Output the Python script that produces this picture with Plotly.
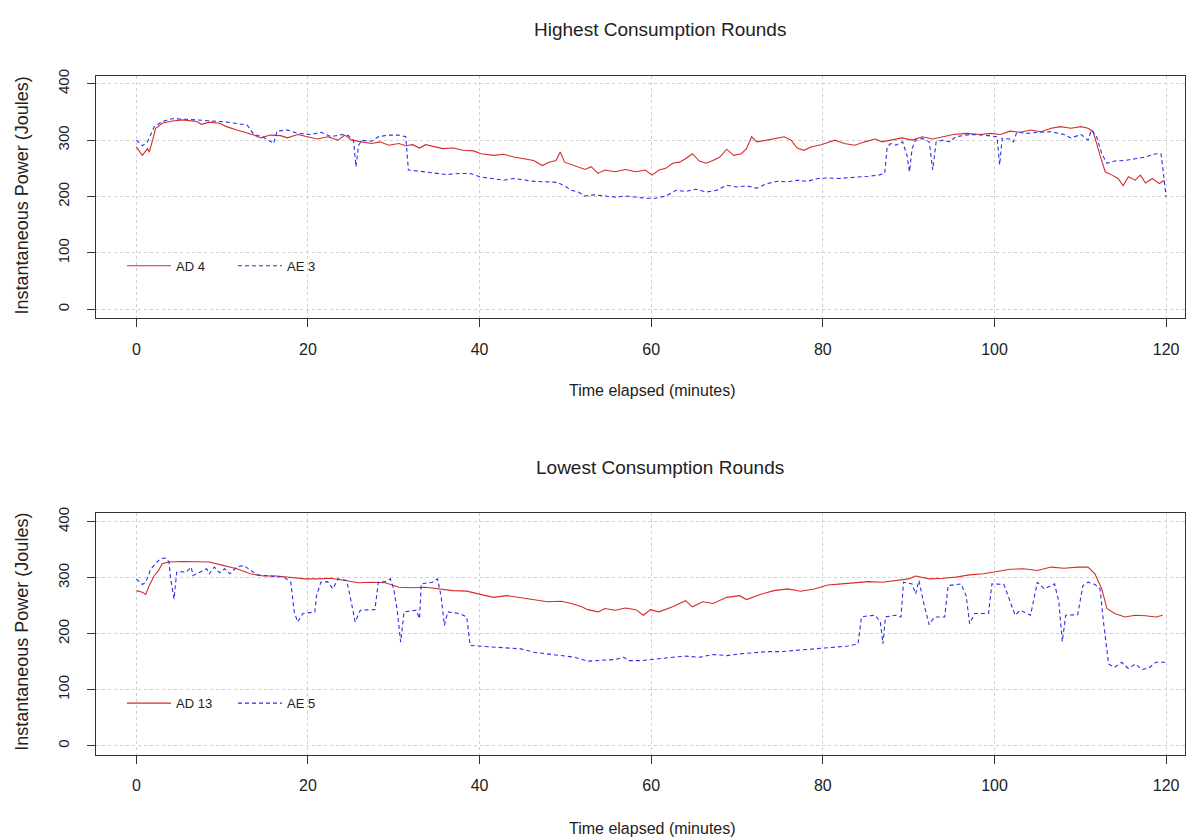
import plotly.graph_objects as go

# ---------------- Data ----------------
top_ad_x = [0.0, 0.7, 1.3, 1.5, 1.9, 2.25, 3.0, 4.2, 5.4, 7.0, 7.6, 8.5, 9.7, 10.5, 11.7, 12.7, 13.7, 14.5,
            15.6, 16.8, 17.6, 18.8, 20.0, 21.1, 22.3, 23.5, 24.3, 25.1, 26.3, 27.4, 28.4, 29.4, 30.6, 31.4,
            32.2, 33.0, 33.7, 34.7, 35.7, 36.9, 38.1, 39.3, 40.2, 41.6, 42.8, 44.0, 45.2, 46.3, 47.3, 48.1,
            48.9, 49.4, 49.9, 51.1, 52.3, 53.0, 53.8, 54.6, 55.8, 57.0, 58.2, 59.3, 60.1, 60.9, 61.7, 62.5,
            63.3, 64.0, 64.8, 65.6, 66.4, 67.2, 68.0, 68.8, 69.6, 70.5, 71.1, 71.7, 72.3, 73.5, 74.7, 75.5,
            76.3, 77.0, 77.8, 78.6, 79.8, 81.4, 82.5, 83.7, 84.9, 86.1, 86.9, 88.1, 89.2, 90.4, 91.6, 92.8,
            94.0, 95.2, 96.7, 98.3, 99.5, 100.7, 101.8, 103.0, 104.2, 105.4, 106.6, 107.7, 108.9, 110.1,
            110.9, 111.5, 112.3, 112.9, 113.7, 114.4, 115.0, 115.6, 116.4, 117.0, 117.6, 118.4, 119.2, 119.8]
top_ad_y = [288, 273, 285, 279, 300, 321, 330, 334, 336, 333, 328, 332, 330, 324, 318, 314, 309, 304,
            309, 308, 304, 310, 306, 302, 306, 300, 309, 300, 297, 294, 297, 291, 294, 290,
            292, 286, 292, 288, 285, 286, 282, 281, 276, 273, 275, 270, 267, 264, 255, 261,
            264, 279, 261, 255, 248, 253, 241, 247, 244, 248, 244, 247, 238, 247, 250, 259,
            261, 267, 276, 263, 259, 264, 270, 284, 273, 276, 285, 306, 297, 300, 303, 306,
            300, 286, 282, 288, 292, 300, 294, 291, 297, 302, 297, 300, 304, 300, 306, 302,
            306, 310, 312, 310, 312, 310, 316, 314, 318, 315, 321, 324, 321, 324,
            321, 315, 273, 244, 238, 232, 219, 235, 229, 238, 224, 232, 223, 229]

top_ae_x = [0.0, 0.7, 1.3, 1.7, 2.1, 3.0, 4.2, 5.8, 7.4, 8.9, 10.5, 11.7, 12.9, 13.7, 14.7, 15.6, 16.0, 16.4,
            17.6, 18.8, 20.4, 21.5, 22.7, 23.9, 24.7, 25.3, 25.6, 25.9, 26.3, 27.4, 28.2, 29.4, 30.6, 31.4,
            31.7, 33.0, 34.5, 36.1, 37.7, 38.9, 40.0, 41.6, 42.8, 44.0, 45.2, 46.3, 47.9, 49.1, 50.1, 50.7,
            51.5, 52.3, 53.4, 54.6, 55.8, 57.0, 58.2, 59.3, 60.5, 61.7, 62.9, 64.0, 65.2, 66.4, 67.6, 68.8,
            70.0, 71.1, 72.3, 73.5, 74.7, 75.9, 77.0, 78.2, 79.4, 80.6, 81.8, 83.0, 84.1, 85.3, 86.5, 87.2,
            87.5, 87.9, 88.5, 89.3, 89.8, 90.1, 90.4, 90.8, 91.6, 92.4, 92.8, 93.2, 94.0, 94.8, 95.5, 97.1,
            98.7, 100.3, 100.6, 100.9, 101.8, 102.2, 102.6, 103.8, 105.0, 106.6, 108.1, 108.9, 110.1, 110.9,
            111.3, 111.9, 112.5, 113.1, 114.0, 115.2, 116.4, 117.6, 118.8, 119.4, 119.6, 120.0]
top_ae_y = [300, 290, 297, 312, 324, 333, 338, 337, 336, 334, 332, 330, 327, 310, 306, 298, 294, 316,
            318, 312, 310, 314, 306, 310, 308, 300, 253, 291, 300, 298, 306, 309, 309, 306,
            247, 245, 242, 239, 241, 241, 235, 232, 229, 232, 229, 227, 226, 225, 217, 211,
            208, 201, 203, 201, 199, 201, 199, 197, 197, 201, 211, 209, 213, 208, 211, 220,
            217, 219, 215, 223, 227, 226, 229, 227, 232, 233, 232, 233, 235, 236, 238, 241,
            288, 294, 291, 297, 273, 244, 285, 300, 303, 297, 247, 297, 300, 297, 306, 310,
            309, 306, 256, 303, 302, 297, 314, 312, 314, 315, 310, 304, 310, 300,
            318, 306, 276, 259, 263, 264, 267, 270, 276, 276, 253, 199]

bot_ad_x = [0.0, 0.7, 1.1, 1.5, 2.1, 2.6, 3.0, 3.8, 5.4, 7.0, 8.5, 10.1, 11.7, 13.3, 14.8, 16.4, 18.0, 19.6,
            21.1, 22.7, 24.3, 25.9, 27.4, 29.0, 30.6, 32.2, 33.7, 35.3, 36.9, 38.5, 40.0, 41.6, 43.2, 44.8,
            46.3, 47.9, 49.5, 50.7, 51.9, 52.6, 53.8, 54.6, 55.8, 57.0, 58.2, 59.1, 59.9, 60.9, 62.5, 64.0,
            64.8, 66.0, 67.2, 68.8, 70.3, 71.1, 72.7, 74.3, 75.9, 77.4, 79.0, 80.6, 82.2, 83.7, 85.3, 86.9,
            88.5, 90.0, 90.8, 92.4, 94.0, 95.5, 97.1, 98.7, 100.3, 101.8, 103.4, 105.0, 106.6, 108.1, 109.7,
            110.9, 111.7, 112.5, 113.1, 114.0, 115.2, 116.4, 117.6, 118.8, 119.6]
bot_ad_y = [277, 274, 270, 286, 304, 313, 325, 328, 329, 329, 328, 322, 316, 307, 303, 303, 301, 298,
            298, 299, 295, 291, 292, 291, 283, 282, 283, 280, 277, 276, 271, 265, 268, 264,
            260, 257, 258, 254, 248, 243, 239, 245, 242, 246, 243, 233, 243, 239, 248, 259,
            248, 257, 254, 265, 268, 261, 270, 277, 280, 276, 280, 287, 289, 291, 293, 292,
            295, 298, 303, 298, 299, 301, 305, 307, 311, 315, 316, 313, 319, 317, 319,
            319, 307, 280, 245, 236, 230, 233, 232, 230, 233]

bot_ae_x = [0.0, 0.7, 1.1, 1.7, 2.25, 2.8, 3.4, 3.8, 4.0, 4.4, 4.7, 5.0, 5.8, 6.4, 6.6, 7.4, 8.2, 8.5, 9.1,
            9.7, 10.3, 10.9, 11.7, 12.5, 13.3, 14.1, 15.6, 17.2, 18.0, 18.4, 18.8, 19.4, 20.8, 21.0, 21.5,
            22.3, 22.9, 23.5, 24.5, 24.9, 25.5, 26.1, 27.8, 28.2, 29.0, 29.6, 30.0, 30.4, 30.8, 31.2, 32.6,
            33.0, 33.2, 34.5, 35.1, 35.5, 35.9, 36.3, 37.7, 38.5, 38.9, 40.0, 41.6, 43.2, 44.8, 46.3, 47.9,
            49.5, 51.1, 52.6, 54.2, 55.8, 56.8, 57.4, 58.9, 60.5, 62.5, 64.0, 65.6, 67.2, 68.8, 70.3, 71.9,
            73.5, 75.1, 76.6, 78.2, 79.8, 81.4, 82.9, 84.1, 84.5, 85.3, 86.1, 86.7, 87.0, 87.3, 88.5, 89.1,
            89.4, 90.4, 90.8, 91.2, 91.8, 92.4, 93.0, 94.2, 94.6, 96.1, 96.7, 97.1, 97.7, 99.3, 99.7, 101.1,
            101.8, 102.4, 103.0, 104.2, 105.0, 105.8, 107.0, 107.5, 107.9, 108.3, 109.7, 110.3, 110.9, 111.7,
            112.3, 112.7, 113.3, 114.0, 114.8, 115.6, 116.4, 117.2, 118.0, 118.8, 120.0]
bot_ae_y = [298, 288, 292, 316, 325, 334, 335, 328, 298, 262, 310, 311, 310, 319, 304, 310, 316, 307, 319,
            309, 316, 307, 319, 322, 313, 305, 303, 301, 292, 239, 221, 236, 239, 268, 292,
            293, 280, 298, 295, 268, 221, 242, 243, 292, 293, 298, 280, 242, 185, 239, 242,
            227, 289, 292, 298, 268, 215, 239, 236, 230, 179, 178, 176, 174, 173, 167, 164,
            161, 158, 151, 152, 154, 158, 152, 152, 155, 158, 160, 158, 163, 161, 164, 166,
            168, 168, 170, 173, 174, 176, 178, 182, 230, 232, 233, 221, 182, 230, 233, 230,
            292, 289, 271, 295, 251, 216, 230, 230, 286, 289, 268, 218, 236, 236, 289, 288,
            257, 233, 242, 233, 292, 280, 289, 257, 186, 233, 234, 286, 292, 288,
            280, 221, 146, 140, 149, 138, 146, 136, 139, 149, 149]

x_ticks = [0, 20, 40, 60, 80, 100, 120]
y_ticks = [0, 100, 200, 300, 400]

titles = ["Highest Consumption Rounds", "Lowest Consumption Rounds"]
x_title = "Time elapsed (minutes)"
y_title = "Instantaneous Power (Joules)"
names_top = ["AD 4", "AE 3"]
names_bot = ["AD 13", "AE 5"]

# ---------------- Styling ----------------
W, H = 1194, 840
FONT = "Liberation Sans, Arial, sans-serif"
RED = "rgb(214,45,40)"
BLUE = "rgb(45,45,235)"
AXC = "#333333"
DASH = "4px,3px"

fig = go.Figure()

fig.add_trace(go.Scatter(x=top_ad_x, y=top_ad_y, mode="lines", name=names_top[0],
                         line=dict(color=RED, width=1.1), xaxis="x", yaxis="y", legend="legend"))
fig.add_trace(go.Scatter(x=top_ae_x, y=top_ae_y, mode="lines", name=names_top[1],
                         line=dict(color=BLUE, width=1.1, dash=DASH), xaxis="x", yaxis="y", legend="legend"))
fig.add_trace(go.Scatter(x=bot_ad_x, y=bot_ad_y, mode="lines", name=names_bot[0],
                         line=dict(color=RED, width=1.1), xaxis="x2", yaxis="y2", legend="legend2"))
fig.add_trace(go.Scatter(x=bot_ae_x, y=bot_ae_y, mode="lines", name=names_bot[1],
                         line=dict(color=BLUE, width=1.1, dash=DASH), xaxis="x2", yaxis="y2", legend="legend2"))

xdom = [96 / W, 1185 / W]
ydom_top = [1 - 314 / H, 1 - 70 / H]
ydom_bot = [1 - 754 / H, 1 - 510 / H]

base_axis = dict(showline=True, linecolor=AXC, linewidth=1.2, mirror=True,
                 ticks="outside", ticklen=8, tickwidth=1, tickcolor=AXC,
                 showgrid=True, gridcolor="#cfcfcf", griddash="dot", gridwidth=1,
                 zeroline=False)
x_axis = dict(base_axis, tickfont=dict(family=FONT, size=16, color="#222"), ticklabelstandoff=8,
              range=[-4.7, 122.2], tickvals=x_ticks, domain=xdom)
y_axis = dict(base_axis, tickfont=dict(family=FONT, size=15, color="#222"), ticklabelstandoff=12,
              tickvals=y_ticks, tickangle=-90)

fig.update_layout(
    width=W, height=H, autosize=False,
    margin=dict(l=0, r=0, t=0, b=0),
    paper_bgcolor="white", plot_bgcolor="white",
    font=dict(family=FONT, color="#222"),
    xaxis=dict(x_axis, anchor="y"),
    yaxis=dict(y_axis, domain=ydom_top, range=[-16, 413], anchor="x"),
    xaxis2=dict(x_axis, anchor="y2"),
    yaxis2=dict(y_axis, domain=ydom_bot, range=[-16, 416], anchor="x2"),
    legend=dict(orientation="h", x=122 / W, y=1 - 261 / H, xanchor="left", yanchor="middle",
                bgcolor="rgba(0,0,0,0)", font=dict(family=FONT, size=13, color="#222"),
                itemwidth=44, entrywidth=52),
    legend2=dict(orientation="h", x=122 / W, y=1 - 702 / H, xanchor="left", yanchor="middle",
                 bgcolor="rgba(0,0,0,0)", font=dict(family=FONT, size=13, color="#222"),
                 itemwidth=44, entrywidth=52),
    showlegend=True,
)

ann = []
for t, yp in zip(titles, [23, 464]):
    ann.append(dict(text=t, x=660 / W, y=1 - yp / H, xref="paper", yref="paper",
                    showarrow=False, xanchor="center", yanchor="middle",
                    font=dict(family=FONT, size=19, color="#222")))
for yp in [387, 828]:
    ann.append(dict(text=x_title, x=652 / W, y=1 - yp / H, xref="paper", yref="paper",
                    showarrow=False, xanchor="center", yanchor="middle",
                    font=dict(family=FONT, size=16, color="#222")))
for yp in [190, 630]:
    ann.append(dict(text=y_title, x=22 / W, y=1 - yp / H, xref="paper", yref="paper",
                    showarrow=False, xanchor="center", yanchor="middle", textangle=-90,
                    font=dict(family=FONT, size=18, color="#222")))
fig.update_layout(annotations=ann)

fig.write_html("out.html", config={"displayModeBar": False},
               post_script="document.body.style.margin='0px';document.body.style.overflow='hidden';")
